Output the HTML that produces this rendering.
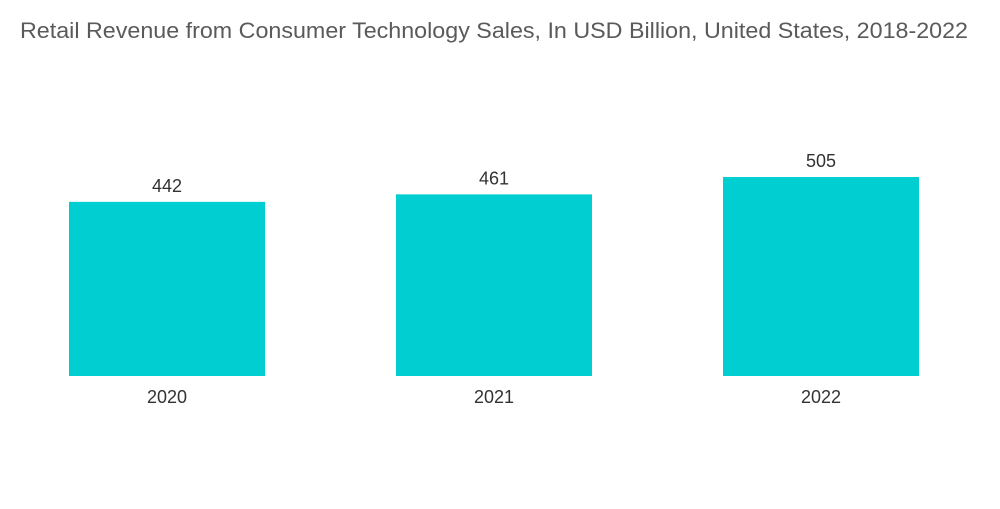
<!DOCTYPE html>
<html><head><meta charset="utf-8"><style>
body{margin:0;background:#fff;}
svg text{font-family:"Liberation Sans",sans-serif;}
</style></head><body>
<svg id="chart" width="1000" height="504">
<text x="20" y="38" font-size="22" fill="#5a5a5a" textLength="948" lengthAdjust="spacingAndGlyphs">Retail Revenue from Consumer Technology Sales, In USD Billion, United States, 2018-2022</text>
<g id="bars"></g>
</svg>
<script>
const categories=["2020","2021","2022"];
const values=[442,461,505];
const svg=document.getElementById('bars');
const NS="http://www.w3.org/2000/svg";
const baseY=376, scale=0.394, x0=69, step=327, bw=196;
function xPos(i){return x0+i*step;}
function yPos(v){return baseY-v*scale;}
categories.forEach((c,i)=>{
  const r=document.createElementNS(NS,'rect');
  r.setAttribute('x',xPos(i));r.setAttribute('y',yPos(values[i]));
  r.setAttribute('width',bw);r.setAttribute('height',baseY-yPos(values[i]));
  r.setAttribute('fill','#00ced1');
  
  
  svg.appendChild(r);
  const t=document.createElementNS(NS,'text');
  t.setAttribute('x',xPos(i)+bw/2);t.setAttribute('y',yPos(values[i])-10);
  t.setAttribute('text-anchor','middle');t.setAttribute('font-size','18');t.setAttribute('fill','#333');
  t.textContent=values[i];
  
  
  svg.appendChild(t);
  const l=document.createElementNS(NS,'text');
  l.setAttribute('x',xPos(i)+bw/2);l.setAttribute('y',403);
  l.setAttribute('text-anchor','middle');l.setAttribute('font-size','18');l.setAttribute('fill','#333');
  l.textContent=c;
  
  
  svg.appendChild(l);
});
</script>
</body></html>
